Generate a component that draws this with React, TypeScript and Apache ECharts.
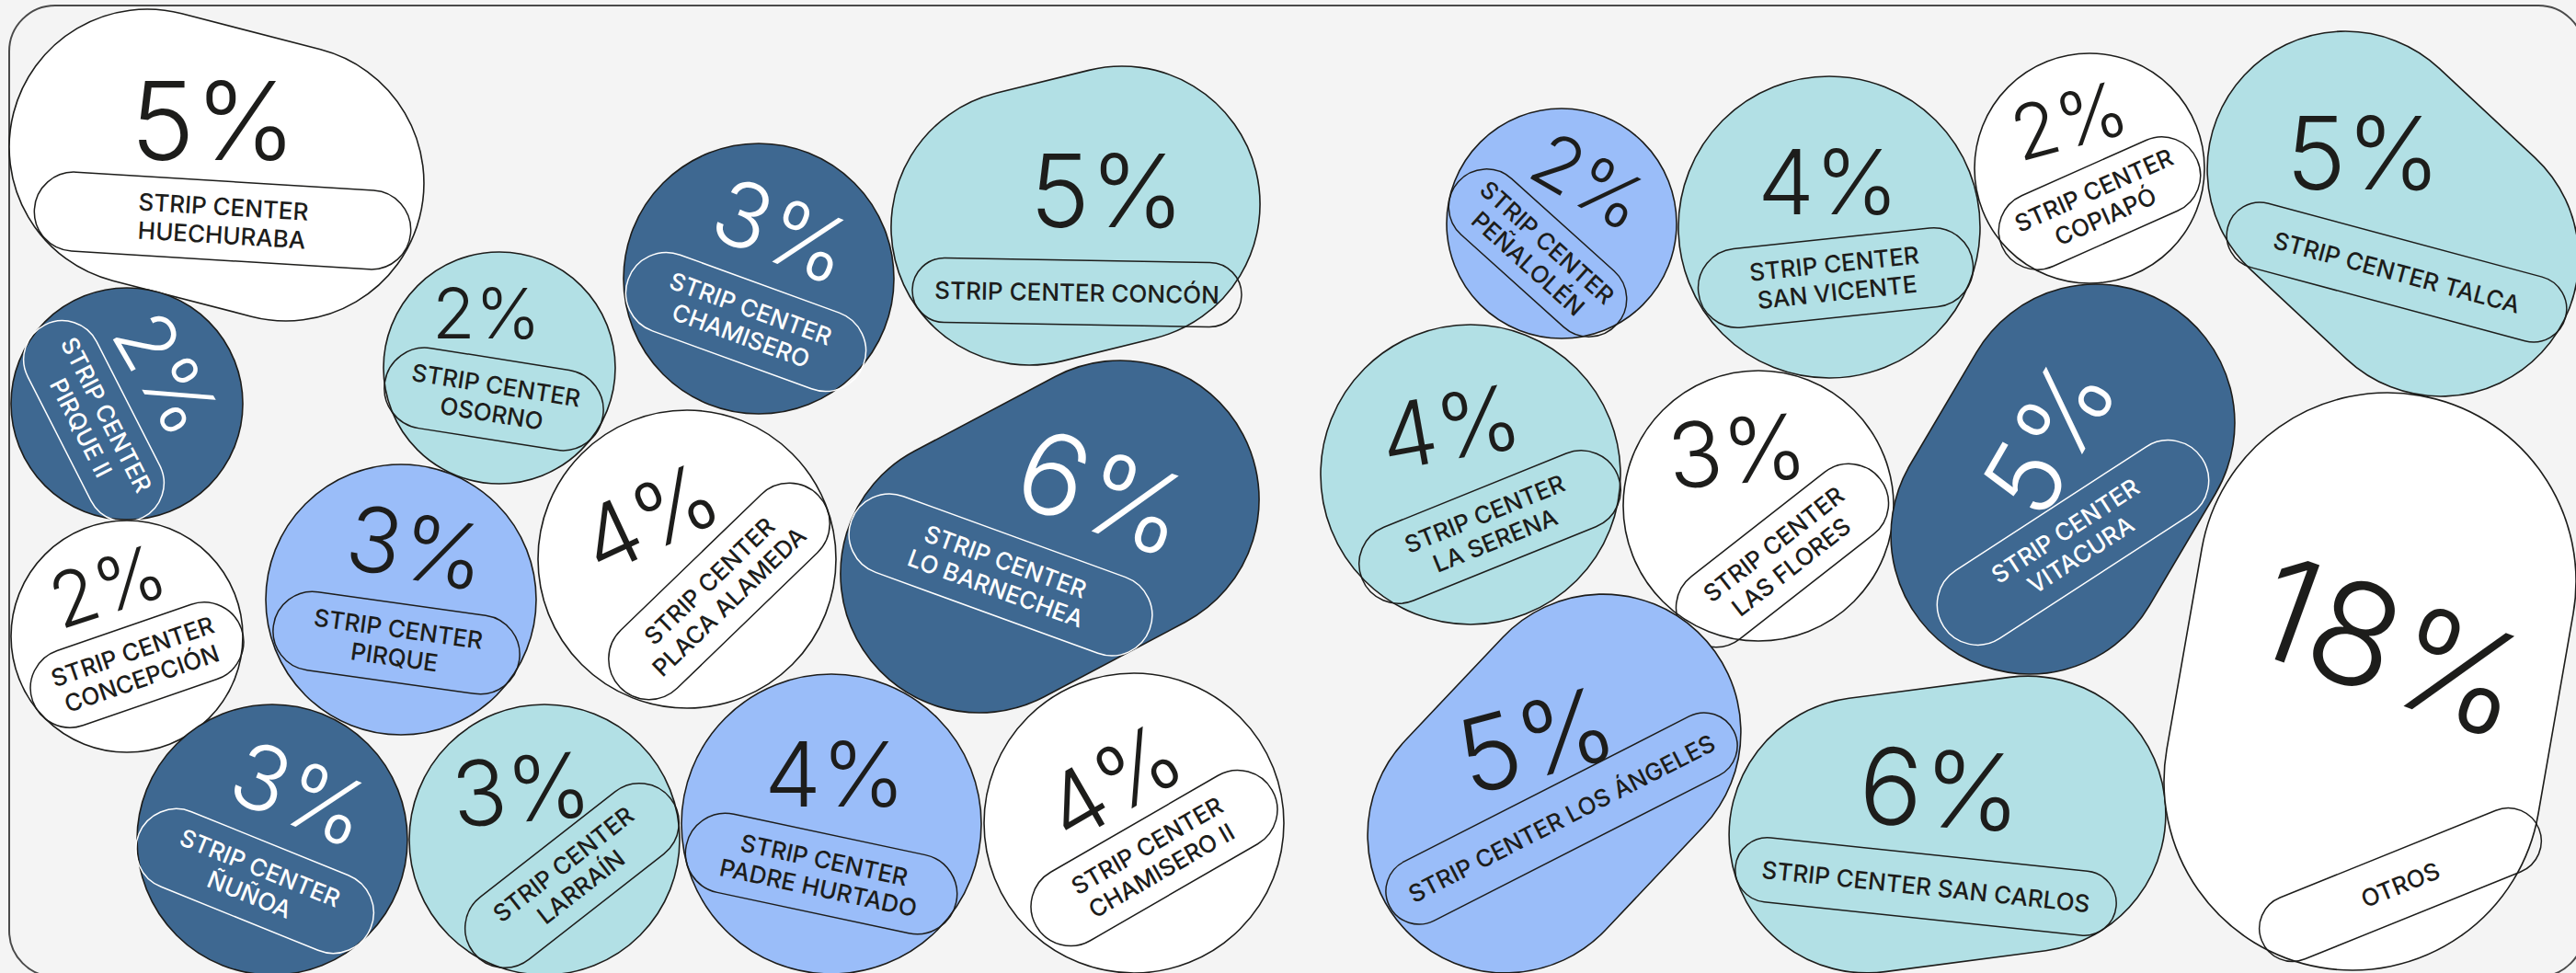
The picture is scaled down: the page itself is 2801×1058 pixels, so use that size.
import React, { useEffect, useRef } from "react";
import * as echarts from "echarts";

// ---- data ----
const labels: string[] = [
  "STRIP CENTER\nHUECHURABA",
  "STRIP CENTER\nPIRQUE II",
  "STRIP CENTER\nOSORNO",
  "STRIP CENTER\nCONCEPCIÓN",
  "STRIP CENTER\nPIRQUE",
  "STRIP CENTER\nÑUÑOA",
  "STRIP CENTER\nLARRAÍN",
  "STRIP CENTER\nPLACA ALAMEDA",
  "STRIP CENTER\nCHAMISERO",
  "STRIP CENTER CONCÓN",
  "STRIP CENTER\nLO BARNECHEA",
  "STRIP CENTER\nPADRE HURTADO",
  "STRIP CENTER\nCHAMISERO II",
  "STRIP CENTER\nPEÑALOLÉN",
  "STRIP CENTER\nSAN VICENTE",
  "STRIP CENTER\nCOPIAPÓ",
  "STRIP CENTER TALCA",
  "STRIP CENTER\nLA SERENA",
  "STRIP CENTER\nLAS FLORES",
  "STRIP CENTER\nVITACURA",
  "STRIP CENTER LOS ÁNGELES",
  "STRIP CENTER SAN CARLOS",
  "OTROS",
];
const values: number[] = [5, 2, 2, 2, 3, 3, 3, 4, 3, 5, 6, 4, 4, 2, 4, 2, 5, 4, 3, 5, 5, 6, 18];
const colorKeys: string[] = [
  "white", "dark", "teal", "white", "light", "dark", "teal", "white", "dark", "teal", "dark", "light", "white",
  "light", "teal", "white", "teal", "teal", "white", "dark", "light", "teal", "white",
];

// ---- layout (pixel space of the 2801 x 1058 canvas) ----
// shape: two end-circle centres + radius (equal centres = circle)
const shapeC1: number[][] = [
  [160, 160], [138, 439], [543, 400], [138, 692], [436, 652], [296, 913], [592, 913], [747, 608], [825, 303],
  [1119, 247], [1065, 624], [904, 896], [1233, 895],
  [1698, 243], [1989, 247], [2272, 183], [2550, 184], [1599, 516], [1912, 550], [2207, 582], [1637, 908],
  [2030, 908], [2558, 850],
];
const shapeC2: number[][] = [
  [311, 199], [138, 439], [543, 400], [138, 692], [436, 652], [296, 913], [592, 913], [747, 608], [825, 303],
  [1220, 222], [1218, 543], [904, 896], [1233, 895],
  [1698, 243], [1989, 247], [2272, 183], [2654, 281], [1599, 516], [1912, 550], [2279, 460], [1743, 796],
  [2205, 885], [2596, 632],
];
const shapeR: number[] = [150, 126, 126, 126, 147, 147, 147, 162, 147, 150, 151, 163, 163, 125, 164, 125, 150, 163, 147, 151, 150, 150, 205];

// percentage text: centre, rotation (deg, clockwise), font size
const pctPos: number[][] = [
  [232, 131], [181, 406], [529, 340], [117, 637], [453, 595], [327, 863], [567, 858], [706, 563], [851, 251],
  [1204, 207], [1200, 535], [908, 841], [1210, 850],
  [1728, 197], [1988, 197], [2250, 131], [2570, 166], [1577, 464], [1889, 490], [2228, 475], [1670, 804],
  [2110, 858], [2601, 703],
];
const pctRot: number[] = [0, 60, 0, -18, 10, 22, -5, -25, 22, 0, 20, 0, -30, 30, 0, -15, 0, -10, -5, -60, -15, 3, 20];
const pctSize: number[] = [118, 88, 76, 82, 98, 98, 98, 98, 98, 110, 122, 98, 98, 82, 98, 82, 110, 98, 98, 112, 112, 115, 155];

// label pill: centre, rotation (deg, clockwise), length, height
const pillPos: number[][] = [
  [242, 240], [102, 458], [537, 434], [149, 723], [431, 699], [277, 958], [622, 952], [782, 643], [811, 350],
  [1171, 318], [1088, 625], [893, 950], [1255, 933],
  [1672, 275], [1996, 302], [2283, 221], [2606, 296], [1620, 573], [1938, 604], [2254, 590], [1698, 890],
  [2094, 964], [2610, 962],
];
const pillRot: number[] = [3.5, 63, 9, -19, 8, 22, -38, -44, 20, 1, 20, 12, -30, 42, -6, -24, 15, -22, -38, -33, -27, 6, -22];
const pillLen: number[] = [410, 235, 240, 240, 270, 272, 272, 300, 272, 358, 345, 300, 296, 232, 300, 232, 380, 300, 270, 335, 420, 416, 325];
const pillH: number[] = [86, 84, 88, 86, 86, 88, 86, 88, 88, 70, 88, 87, 86, 82, 86, 84, 72, 86, 86, 88, 72, 70, 72];

const palette: Record<string, { fill: string; line: string; text: string }> = {
  white: { fill: "#ffffff", line: "#1d1d1b", text: "#1d1d1b" },
  dark: { fill: "#3e6891", line: "#ffffff", text: "#ffffff" },
  teal: { fill: "#b2e0e5", line: "#1d1d1b", text: "#1d1d1b" },
  light: { fill: "#9abdf9", line: "#1d1d1b", text: "#1d1d1b" },
};

const W = 2801;
const H = 1058;
const deg = Math.PI / 180;

export default function App() {
  const ref = useRef<HTMLDivElement>(null);
  useEffect(() => {
    document.body.style.margin = "0";
    document.body.style.overflow = "hidden";
    if (!ref.current) return;
    const chart = echarts.init(ref.current, undefined, { renderer: "svg" });
    const data = values.map((v, i) => [shapeC1[i][0], shapeC1[i][1], shapeC2[i][0], shapeC2[i][1], shapeR[i], v]);
    chart.setOption({
      animation: false,
      backgroundColor: "#f4f4f4",
      grid: { left: 0, right: 0, top: 0, bottom: 0 },
      xAxis: { type: "value", min: 0, max: W, show: false },
      yAxis: { type: "value", min: 0, max: H, inverse: true, show: false },
      graphic: {
        elements: [
          {
            type: "rect",
            z: 0,
            silent: true,
            shape: { x: 10, y: 6, width: 2800, height: 1056, r: 50 },
            style: { fill: "none", stroke: "#4a4a4a", lineWidth: 2 },
          },
        ],
      },
      series: [
        {
          type: "custom",
          coordinateSystem: "cartesian2d",
          data,
          z: 5,
          renderItem: (params: any, api: any) => {
            const i = params.dataIndex;
            const a = api.coord([api.value(0), api.value(1)]);
            const b = api.coord([api.value(2), api.value(3)]);
            const rr = api.size([api.value(4), 0])[0];
            const v = api.value(5);
            const dx = b[0] - a[0];
            const dy = b[1] - a[1];
            const d = Math.hypot(dx, dy);
            const ang = Math.atan2(dy, dx);
            const cx = (a[0] + b[0]) / 2;
            const cy = (a[1] + b[1]) / 2;
            const pal = palette[colorKeys[i]];
            const pp = api.coord(pctPos[i]);
            const lp = api.coord(pillPos[i]);
            const len = api.size([pillLen[i], 0])[0];
            const ph = api.size([0, pillH[i]])[1];
            return {
              type: "group",
              children: [
                {
                  type: "rect",
                  x: cx,
                  y: cy,
                  rotation: -ang,
                  shape: { x: -(d / 2 + rr), y: -rr, width: d + 2 * rr, height: 2 * rr, r: rr },
                  style: { fill: pal.fill, stroke: "#1d1d1b", lineWidth: 1.6 },
                },
                {
                  type: "rect",
                  x: lp[0],
                  y: lp[1],
                  rotation: -pillRot[i] * deg,
                  shape: { x: -len / 2, y: -ph / 2, width: len, height: ph, r: ph / 2 },
                  style: { fill: "rgba(0,0,0,0)", stroke: pal.line, lineWidth: 1.5 },
                },
                {
                  type: "text",
                  x: lp[0],
                  y: lp[1],
                  rotation: -pillRot[i] * deg,
                  style: {
                    text: labels[i],
                    fill: pal.text,
                    fontSize: 26,
                    lineHeight: 31,
                    fontFamily: "Inter, 'Noto Sans', sans-serif",
                    fontWeight: 500,
                    align: "center",
                    verticalAlign: "middle",
                  },
                },
                {
                  type: "text",
                  x: pp[0],
                  y: pp[1],
                  rotation: -pctRot[i] * deg,
                  style: {
                    text: v + "%",
                    fill: pal.text,
                    fontSize: pctSize[i],
                    fontFamily: "Inter, 'Noto Sans', sans-serif",
                    fontWeight: 300,
                    align: "center",
                    verticalAlign: "middle",
                  },
                },
              ],
            };
          },
        },
      ],
    });
    return () => chart.dispose();
  }, []);
  return <div ref={ref} style={{ width: W + "px", height: H + "px" }} />;
}
